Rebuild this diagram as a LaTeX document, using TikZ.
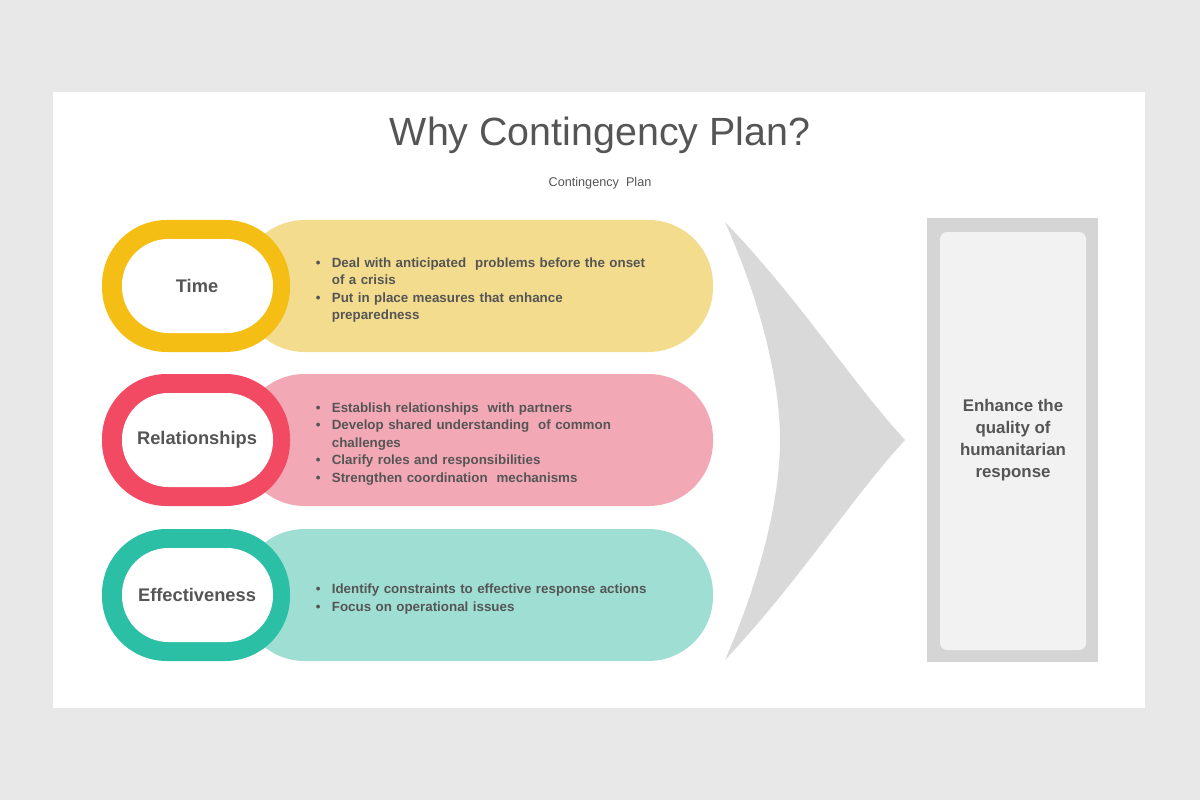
\documentclass[tikz,border=0pt]{standalone}
\usepackage{fontspec}
\setmainfont{Liberation Sans}
\usepackage{enumitem}
\usetikzlibrary{positioning}
\definecolor{bgray}{HTML}{E9E8E9}
\definecolor{tgray}{HTML}{555555}
\definecolor{ringY}{HTML}{F5BE14}
\definecolor{paleY}{HTML}{F3DC8E}
\definecolor{ringR}{HTML}{F24A63}
\definecolor{paleR}{HTML}{F2A9B5}
\definecolor{ringT}{HTML}{2BBFA5}
\definecolor{paleT}{HTML}{9FDED3}
\setlist[itemize]{leftmargin=12pt,labelsep=8pt,itemsep=0pt,parsep=0pt,topsep=0pt,label=\textbullet}
\begin{document}
\begin{tikzpicture}[x=0.025cm,y=-0.025cm,
  item/.style={text=tgray,font=\fontsize{9.5}{12.5}\selectfont\bfseries,align=left,text width=8.3cm,anchor=west},
  lbl/.style={text=tgray,font=\fontsize{13}{15}\selectfont\bfseries}]
\fill[bgray] (0,0) rectangle (1200,800);
\fill[white] (53,92) rectangle (1145,708);
\node[text=tgray,font=\fontsize{28}{34}\selectfont] (title) at (600,135) {Why Contingency Plan?};
\node[text=tgray,font=\fontsize{9}{11}\selectfont] (sub) at (600,183) {Contingency\ \ Plan};
% rows
\foreach \y/\rc/\pc/\name in {286/ringY/paleY/Time,440/ringR/paleR/Relationships,595/ringT/paleT/Effectiveness}{
  \fill[\pc,rounded corners=46pt] (240,\y-66) rectangle (713,\y+66);
  \fill[\rc,rounded corners=46pt] (102,\y-66) rectangle (290,\y+66);
  \fill[white,rounded corners=33pt] (122,\y-47) rectangle (273,\y+47);
  \node[lbl] (\name) at (197,\y) {\name};
}
\node[item] (b1) at (310,286) {\begin{itemize}
  \item Deal with anticipated\ \ problems before the onset of a crisis
  \item Put in place measures that enhance preparedness\end{itemize}};
\node[item] (b2) at (310,440) {\begin{itemize}
  \item Establish relationships\ \ with partners
  \item Develop shared understanding\ \ of common challenges
  \item Clarify roles and responsibilities
  \item Strengthen coordination\ \ mechanisms\end{itemize}};
\node[item] (b3) at (310,595) {\begin{itemize}
  \item Identify constraints to effective response actions
  \item Focus on operational issues\end{itemize}};
% chevron
\fill[gray!30] (725,222) .. controls (800,300) and (850,380) .. (905,440)
  .. controls (850,500) and (800,580) .. (725,660)
  .. controls (760,580) and (780,500) .. (780,440)
  .. controls (780,380) and (760,300) .. (725,222);
% result box
\fill[gray!33] (927,218) rectangle (1098,662);
\fill[gray!10,rounded corners=5pt] (940,232) rectangle (1086,650);
\node[lbl,align=center,font=\fontsize{12}{15.5}\selectfont\bfseries] (res) at (1013,440) {Enhance the\\quality of\\humanitarian\\response};
\end{tikzpicture}
\end{document}
